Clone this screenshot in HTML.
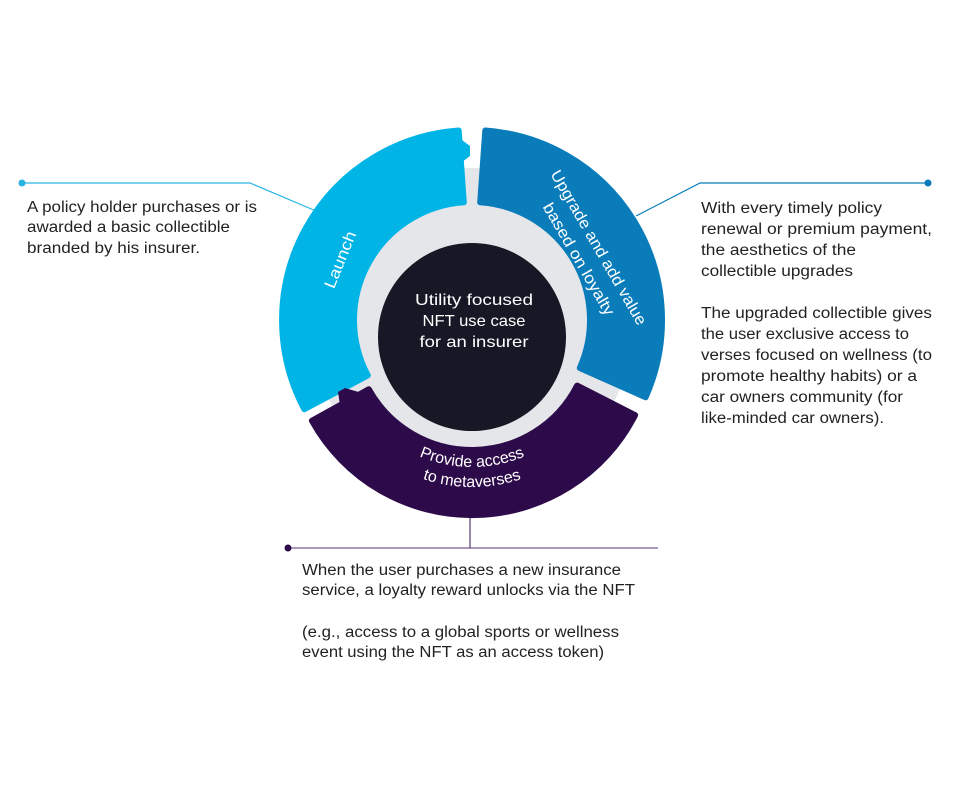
<!DOCTYPE html>
<html><head><meta charset="utf-8"><style>
html,body{margin:0;padding:0;background:#fff;}
svg{display:block;}
.t{font-family:"Liberation Sans",sans-serif;font-size:15.5px;fill:#222;}
.w{font-family:"Liberation Sans",sans-serif;font-size:16px;fill:#fff;}
</style></head><body>
<svg width="960" height="791" viewBox="0 0 960 791" xmlns="http://www.w3.org/2000/svg">
<g fill="none" stroke-width="1.2">
<polyline points="22,183 250,183 316,211" stroke="#27b4e3"/>
<polyline points="928,183 700,183 636,216" stroke="#0a7cba"/>
<line x1="288" y1="548" x2="658" y2="548" stroke="#7a5a8f"/>
<line x1="470" y1="510" x2="470" y2="548" stroke="#5a3a70"/>
</g>
<circle cx="22" cy="183" r="3.5" fill="#27b4e3"/>
<circle cx="928" cy="183" r="3.5" fill="#0a7cba"/>
<circle cx="288" cy="548" r="3.5" fill="#2d0a4a"/>

<circle cx="472" cy="328" r="160" fill="#e5e6e9"/>

<path d="M367.8 375.4 L304.3 409.2 A190 190 0 0 1 458.7 130.5 L463.8 202.3 A118 118 0 0 0 367.8 375.4 Z" fill="#00b5e6" stroke="#00b5e6" stroke-width="6" stroke-linejoin="round"/>
<path d="M480.2 202.3 L485.3 130.5 A190 190 0 0 1 645.6 397.3 L579.8 368 A118 118 0 0 0 480.2 202.3 Z" fill="#0a7cba" stroke="#0a7cba" stroke-width="6" stroke-linejoin="round"/>
<path d="M577.1 385.6 L635.1 415.1 A183 183 0 0 1 311.9 420.7 L368.8 389.2 A118 118 0 0 0 577.1 385.6 Z" fill="#2d0a4a" stroke="#2d0a4a" stroke-width="6" stroke-linejoin="round"/>
<path d="M338 392 L345 388 L362 393 L366 404 L340 405 Z" fill="#2d0a4a"/>
<path d="M462 140 L470 146 L470 156 L462 162 Z" fill="#00b5e6"/>

<circle cx="472" cy="337" r="94" fill="#161826"/>
<text class="w" x="474" y="305" text-anchor="middle" textLength="118" lengthAdjust="spacingAndGlyphs">Utility focused</text>
<text class="w" x="474" y="326" text-anchor="middle" textLength="103" lengthAdjust="spacingAndGlyphs">NFT use case</text>
<text class="w" x="474" y="347" text-anchor="middle" textLength="109" lengthAdjust="spacingAndGlyphs">for an insurer</text>

<text class="w" transform="translate(341,260) rotate(-68)" text-anchor="middle" dominant-baseline="central" textLength="60" lengthAdjust="spacingAndGlyphs">Launch</text>
<g transform="translate(598,248) rotate(60)">
<text class="w" x="0" y="0" text-anchor="middle" dominant-baseline="central" textLength="176" lengthAdjust="spacingAndGlyphs">Upgrade and add value</text>
<text class="w" x="0" y="23" text-anchor="middle" dominant-baseline="central" textLength="127" lengthAdjust="spacingAndGlyphs">based on loyalty</text>
</g>

<defs>
<path id="p1" d="M337 332 A135 135 0 0 0 607 332"/>
<path id="p2" d="M317 332 A155 155 0 0 0 627 332"/>
</defs>
<text class="w"><textPath href="#p1" startOffset="50%" text-anchor="middle">Provide access</textPath></text>
<text class="w"><textPath href="#p2" startOffset="50%" text-anchor="middle">to metaverses</textPath></text>

<text class="t" x="27" y="212" textLength="230" lengthAdjust="spacingAndGlyphs">A policy holder purchases or is</text>
<text class="t" x="27" y="232" textLength="203" lengthAdjust="spacingAndGlyphs">awarded a basic collectible</text>
<text class="t" x="27" y="253" textLength="173" lengthAdjust="spacingAndGlyphs">branded by his insurer.</text>

<text class="t" x="701" y="213" textLength="181" lengthAdjust="spacingAndGlyphs">With every timely policy</text>
<text class="t" x="701" y="234" textLength="231" lengthAdjust="spacingAndGlyphs">renewal or premium payment,</text>
<text class="t" x="701" y="255" textLength="155" lengthAdjust="spacingAndGlyphs">the aesthetics of the</text>
<text class="t" x="701" y="276" textLength="152" lengthAdjust="spacingAndGlyphs">collectible upgrades</text>
<text class="t" x="701" y="318" textLength="231" lengthAdjust="spacingAndGlyphs">The upgraded collectible gives</text>
<text class="t" x="701" y="339" textLength="208" lengthAdjust="spacingAndGlyphs">the user exclusive access to</text>
<text class="t" x="701" y="360" textLength="231" lengthAdjust="spacingAndGlyphs">verses focused on wellness (to</text>
<text class="t" x="701" y="381" textLength="216" lengthAdjust="spacingAndGlyphs">promote healthy habits) or a</text>
<text class="t" x="701" y="402" textLength="202" lengthAdjust="spacingAndGlyphs">car owners community (for</text>
<text class="t" x="701" y="423" textLength="183" lengthAdjust="spacingAndGlyphs">like-minded car owners).</text>

<text class="t" x="302" y="575" textLength="319" lengthAdjust="spacingAndGlyphs">When the user purchases a new insurance</text>
<text class="t" x="302" y="595" textLength="333" lengthAdjust="spacingAndGlyphs">service, a loyalty reward unlocks via the NFT</text>
<text class="t" x="302" y="637" textLength="317" lengthAdjust="spacingAndGlyphs">(e.g., access to a global sports or wellness</text>
<text class="t" x="302" y="657" textLength="302" lengthAdjust="spacingAndGlyphs">event using the NFT as an access token)</text>
</svg>
</body></html>
